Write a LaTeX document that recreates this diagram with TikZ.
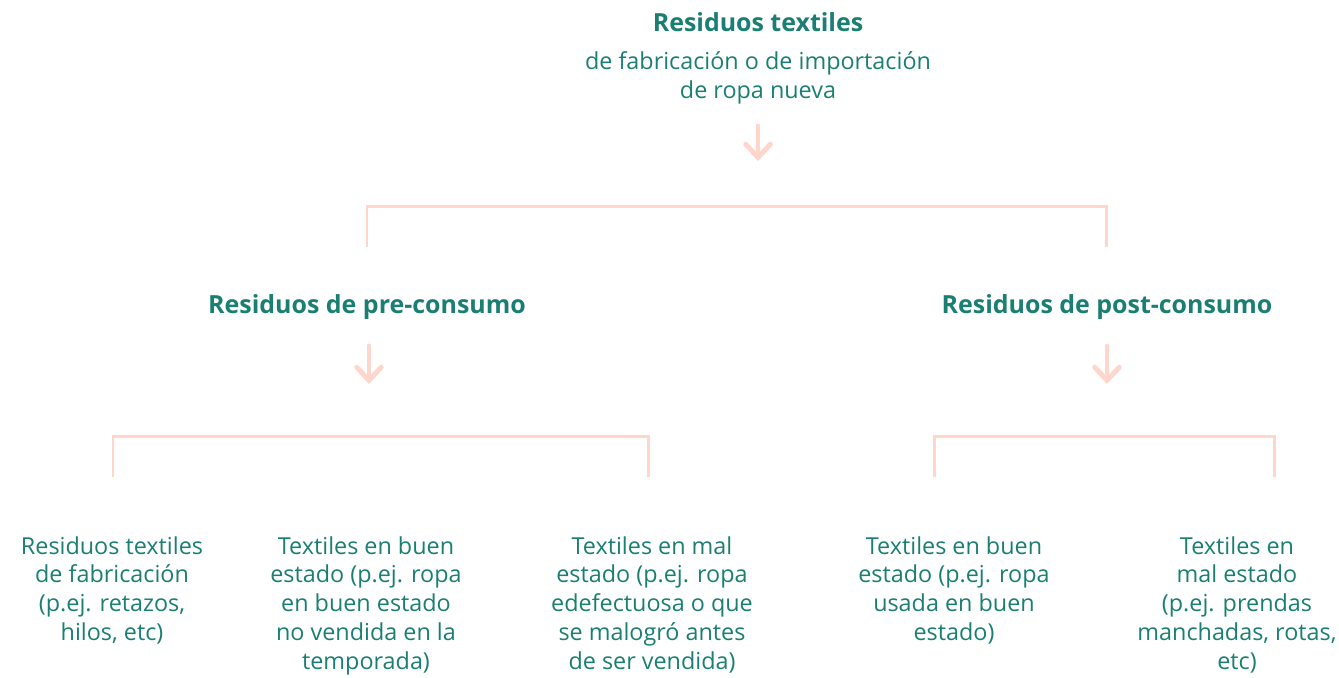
\documentclass[tikz,border=0pt]{standalone}
\usepackage{fontspec}
\setmainfont{Open Sans}
\usetikzlibrary{arrows.meta}
\definecolor{teal1}{HTML}{1A7F72}
\definecolor{peach}{HTML}{FFD6CB}
\tikzset{
  lbl/.style={text=teal1, font=\fontsize{13.3}{16.4}\selectfont, align=center, inner sep=0pt},
  head/.style={lbl, font=\fontsize{14.2}{17}\selectfont\bfseries},
  down/.style={peach, line width=2.8pt, line cap=round, -{Straight Barb[length=7.5pt,width=14pt,line cap=round]}},
  brace/.style={peach, line width=1.7pt}
}
\begin{document}
\begin{tikzpicture}[x=0.02cm,y=-0.02cm]
\useasboundingbox (0,0) rectangle (1339,677);

\node[head] (top) at (758,22) {Residuos textiles};
\node[lbl] (sub) at (758,78) {de fabricación o de importación\\de ropa nueva};
\coordinate (a0) at (758,126);
\coordinate (a1) at (758,161);
\draw[down] (a0)--(a1);

\node[head] (pre) at (367,307) {Residuos de pre-consumo};
\node[head] (post) at (1107,307) {Residuos de post-consumo};
\draw[brace] (367,247) |- (1106,206) -- (1106,247);

\foreach \n/\x in {pre/369, post/1107}
{
    \draw[down] (\x,346)--(\x,384);
}

\draw[brace] (113,477) |- (648,436) -- (648,477);
\draw[brace] (934,477) |- (1274,436) -- (1274,477);

\node[lbl, anchor=north] (c1) at (112,536) {Residuos textiles\\de fabricación\\(p.ej. retazos,\\hilos, etc)};
\node[lbl, anchor=north] (c2) at (366,536) {Textiles en buen\\estado (p.ej. ropa\\en buen estado\\no vendida en la\\temporada)};
\node[lbl, anchor=north] (c3) at (652,536) {Textiles en mal\\estado (p.ej. ropa\\edefectuosa o que\\se malogró antes\\de ser vendida)};
\node[lbl, anchor=north] (c4) at (954,536) {Textiles en buen\\estado (p.ej. ropa\\usada en buen\\estado)};
\node[lbl, anchor=north] (c5) at (1237,536) {Textiles en\\mal estado\\(p.ej. prendas\\manchadas, rotas,\\etc)};

\end{tikzpicture}
\end{document}
